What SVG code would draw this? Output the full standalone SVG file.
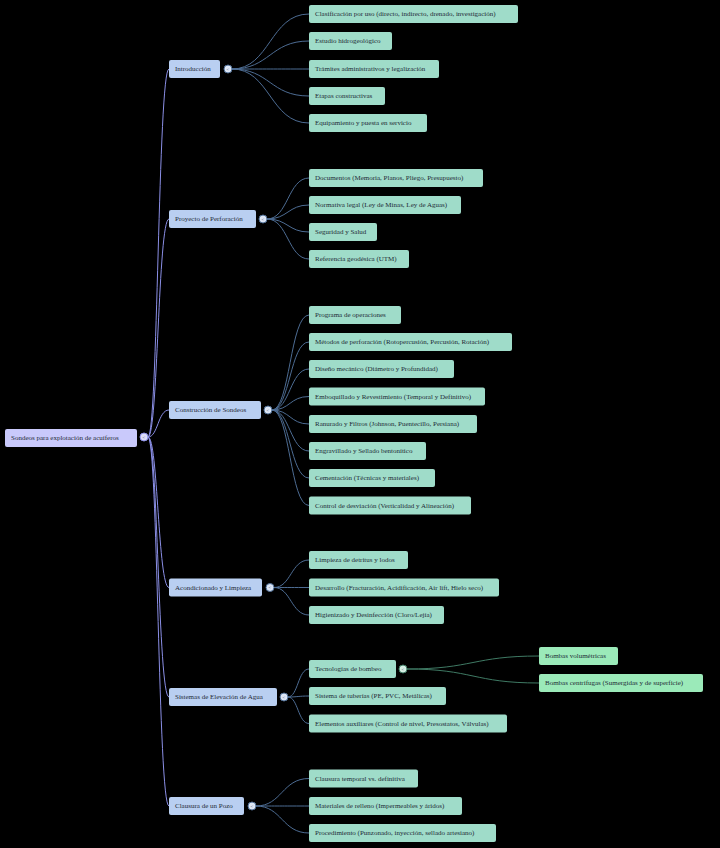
<svg xmlns="http://www.w3.org/2000/svg" width="720" height="848" viewBox="0 0 720 848">
<style>
.bg{fill:#000}
.n0{fill:#c9c9fb}
.n1{fill:#b9cff1}
.n2{fill:#9fdcc9}
.n3{fill:#9beab9}
text{font-family:"Liberation Serif","Times New Roman",serif;font-size:7px;fill:#1e2a36;dominant-baseline:central}
.l0{fill:none;stroke:#8b8fe6;stroke-width:1}
.l1{fill:none;stroke:#4d6c93;stroke-width:1}
.l2{fill:none;stroke:#3f7a64;stroke-width:1}
.c0{fill:#dcdcf8;stroke:#8b8fe6;stroke-width:1}
.c1{fill:#dce6f6;stroke:#4d6c93;stroke-width:1}
.c2{fill:#d4eee4;stroke:#3f7a64;stroke-width:1}
.k{font-size:5px;fill:#556;text-anchor:middle}
</style>
<rect class="bg" x="0" y="0" width="720" height="848"/>
<g id="connectors">
<path class="l0" d="M148,437 C158,437 158,69 169,69"/>
<path class="l0" d="M148,437 C158,437 158,219 169,219"/>
<path class="l0" d="M148,437 C158,437 158,410 169,410"/>
<path class="l0" d="M148,437 C158,437 158,587.5 169,587.5"/>
<path class="l0" d="M148,437 C158,437 158,697 169,697"/>
<path class="l0" d="M148,437 C158,437 158,806 169,806"/>
<path class="l1" d="M232,69 C270,69 270,14 309,14"/>
<path class="l1" d="M232,69 C270,69 270,41 309,41"/>
<path class="l1" d="M232,69 C270,69 270,69 309,69"/>
<path class="l1" d="M232,69 C270,69 270,96 309,96"/>
<path class="l1" d="M232,69 C270,69 270,123 309,123"/>
<path class="l1" d="M267,219 C288,219 288,178 309,178"/>
<path class="l1" d="M267,219 C288,219 288,205 309,205"/>
<path class="l1" d="M267,219 C288,219 288,232 309,232"/>
<path class="l1" d="M267,219 C288,219 288,259 309,259"/>
<path class="l1" d="M272,410 C290,410 290,315 309,315"/>
<path class="l1" d="M272,410 C290,410 290,342 309,342"/>
<path class="l1" d="M272,410 C290,410 290,369 309,369"/>
<path class="l1" d="M272,410 C290,410 290,396.5 309,396.5"/>
<path class="l1" d="M272,410 C290,410 290,424 309,424"/>
<path class="l1" d="M272,410 C290,410 290,451 309,451"/>
<path class="l1" d="M272,410 C290,410 290,478 309,478"/>
<path class="l1" d="M272,410 C290,410 290,505.5 309,505.5"/>
<path class="l1" d="M274,587.5 C291,587.5 291,560 309,560"/>
<path class="l1" d="M274,587.5 C291,587.5 291,587.5 309,587.5"/>
<path class="l1" d="M274,587.5 C291,587.5 291,615 309,615"/>
<path class="l1" d="M288,697 C298,697 298,669 309,669"/>
<path class="l1" d="M288,697 C298,697 298,696 309,696"/>
<path class="l1" d="M288,697 C298,697 298,723.5 309,723.5"/>
<path class="l1" d="M256,806 C282,806 282,778.5 309,778.5"/>
<path class="l1" d="M256,806 C282,806 282,806 309,806"/>
<path class="l1" d="M256,806 C282,806 282,833 309,833"/>
<path class="l2" d="M407,669 C473,669 473,656 539,656"/>
<path class="l2" d="M407,669 C473,669 473,683 539,683"/>
</g>
<g id="root"><rect class="n0" x="5" y="429" width="132" height="18" rx="2"/><text x="11" y="438">Sondeos para explotación de acuíferos</text><circle class="c0" cx="144" cy="437" r="4"/><text class="k" x="144" y="437">&lt;</text></g>
<g id="n-intro"><rect class="n1" x="169" y="60" width="51" height="18" rx="2"/><text x="175" y="69">Introducción</text><circle class="c1" cx="228" cy="69" r="4"/><text class="k" x="228" y="69">&lt;</text></g>
<g id="n-intro-1"><rect class="n2" x="309" y="5" width="209" height="18" rx="2"/><text x="315" y="14">Clasificación por uso (directo, indirecto, drenado, investigación)</text></g>
<g id="n-intro-2"><rect class="n2" x="309" y="32" width="83" height="18" rx="2"/><text x="315" y="41">Estudio hidrogeológico</text></g>
<g id="n-intro-3"><rect class="n2" x="309" y="60" width="130" height="18" rx="2"/><text x="315" y="69">Trámites administrativos y legalización</text></g>
<g id="n-intro-4"><rect class="n2" x="309" y="87" width="76" height="18" rx="2"/><text x="315" y="96">Etapas constructivas</text></g>
<g id="n-intro-5"><rect class="n2" x="309" y="114" width="118" height="18" rx="2"/><text x="315" y="123">Equipamiento y puesta en servicio</text></g>
<g id="n-proy"><rect class="n1" x="169" y="210" width="87" height="18" rx="2"/><text x="175" y="219">Proyecto de Perforación</text><circle class="c1" cx="263" cy="219" r="4"/><text class="k" x="263" y="219">&lt;</text></g>
<g id="n-proy-1"><rect class="n2" x="309" y="169" width="174" height="18" rx="2"/><text x="315" y="178">Documentos (Memoria, Planos, Pliego, Presupuesto)</text></g>
<g id="n-proy-2"><rect class="n2" x="309" y="196" width="152" height="18" rx="2"/><text x="315" y="205">Normativa legal (Ley de Minas, Ley de Aguas)</text></g>
<g id="n-proy-3"><rect class="n2" x="309" y="223" width="68" height="18" rx="2"/><text x="315" y="232">Seguridad y Salud</text></g>
<g id="n-proy-4"><rect class="n2" x="309" y="250" width="100" height="18" rx="2"/><text x="315" y="259">Referencia geodésica (UTM)</text></g>
<g id="n-cons"><rect class="n1" x="169" y="401" width="92" height="18" rx="2"/><text x="175" y="410">Construcción de Sondeos</text><circle class="c1" cx="268" cy="410" r="4"/><text class="k" x="268" y="410">&lt;</text></g>
<g id="n-cons-1"><rect class="n2" x="309" y="306" width="92" height="18" rx="2"/><text x="315" y="315">Programa de operaciones</text></g>
<g id="n-cons-2"><rect class="n2" x="309" y="333" width="203" height="18" rx="2"/><text x="315" y="342">Métodos de perforación (Rotopercusión, Percusión, Rotación)</text></g>
<g id="n-cons-3"><rect class="n2" x="309" y="360" width="145" height="18" rx="2"/><text x="315" y="369">Diseño mecánico (Diámetro y Profundidad)</text></g>
<g id="n-cons-4"><rect class="n2" x="309" y="387.5" width="176" height="18" rx="2"/><text x="315" y="396.5">Emboquillado y Revestimiento (Temporal y Definitivo)</text></g>
<g id="n-cons-5"><rect class="n2" x="309" y="415" width="168" height="18" rx="2"/><text x="315" y="424">Ranurado y Filtros (Johnson, Puentecillo, Persiana)</text></g>
<g id="n-cons-6"><rect class="n2" x="309" y="442" width="117" height="18" rx="2"/><text x="315" y="451">Engravillado y Sellado bentonítico</text></g>
<g id="n-cons-7"><rect class="n2" x="309" y="469" width="126" height="18" rx="2"/><text x="315" y="478">Cementación (Técnicas y materiales)</text></g>
<g id="n-cons-8"><rect class="n2" x="309" y="496.5" width="162" height="18" rx="2"/><text x="315" y="505.5">Control de desviación (Verticalidad y Alineación)</text></g>
<g id="n-acon"><rect class="n1" x="169" y="578.5" width="93" height="18" rx="2"/><text x="175" y="587.5">Acondicionado y Limpieza</text><circle class="c1" cx="270" cy="587.5" r="4"/><text class="k" x="270" y="587.5">&lt;</text></g>
<g id="n-acon-1"><rect class="n2" x="309" y="551" width="99" height="18" rx="2"/><text x="315" y="560">Limpieza de detritus y lodos</text></g>
<g id="n-acon-2"><rect class="n2" x="309" y="578.5" width="190" height="18" rx="2"/><text x="315" y="587.5">Desarrollo (Fracturación, Acidificación, Air lift, Hielo seco)</text></g>
<g id="n-acon-3"><rect class="n2" x="309" y="606" width="135" height="18" rx="2"/><text x="315" y="615">Higienizado y Desinfección (Cloro/Lejía)</text></g>
<g id="n-sist"><rect class="n1" x="169" y="688" width="108" height="18" rx="2"/><text x="175" y="697">Sistemas de Elevación de Agua</text><circle class="c1" cx="284" cy="697" r="4"/><text class="k" x="284" y="697">&lt;</text></g>
<g id="n-sist-1"><rect class="n2" x="309" y="660" width="87" height="18" rx="2"/><text x="315" y="669">Tecnologías de bombeo</text><circle class="c2" cx="403" cy="669" r="4"/><text class="k" x="403" y="669">&lt;</text></g>
<g id="n-sist-1-1"><rect class="n3" x="539" y="647" width="79" height="18" rx="2"/><text x="545" y="656">Bombas volumétricas</text></g>
<g id="n-sist-1-2"><rect class="n3" x="539" y="674" width="164" height="18" rx="2"/><text x="545" y="683">Bombas centrífugas (Sumergidas y de superficie)</text></g>
<g id="n-sist-2"><rect class="n2" x="309" y="687" width="137" height="18" rx="2"/><text x="315" y="696">Sistema de tuberías (PE, PVC, Metálicas)</text></g>
<g id="n-sist-3"><rect class="n2" x="309" y="714.5" width="198" height="18" rx="2"/><text x="315" y="723.5">Elementos auxiliares (Control de nivel, Presostatos, Válvulas)</text></g>
<g id="n-clau"><rect class="n1" x="169" y="797" width="75" height="18" rx="2"/><text x="175" y="806">Clausura de un Pozo</text><circle class="c1" cx="252" cy="806" r="4"/><text class="k" x="252" y="806">&lt;</text></g>
<g id="n-clau-1"><rect class="n2" x="309" y="769.5" width="109" height="18" rx="2"/><text x="315" y="778.5">Clausura temporal vs. definitiva</text></g>
<g id="n-clau-2"><rect class="n2" x="309" y="797" width="153" height="18" rx="2"/><text x="315" y="806">Materiales de relleno (Impermeables y áridos)</text></g>
<g id="n-clau-3"><rect class="n2" x="309" y="824" width="187" height="18" rx="2"/><text x="315" y="833">Procedimiento (Punzonado, inyección, sellado artesiano)</text></g>
</svg>
